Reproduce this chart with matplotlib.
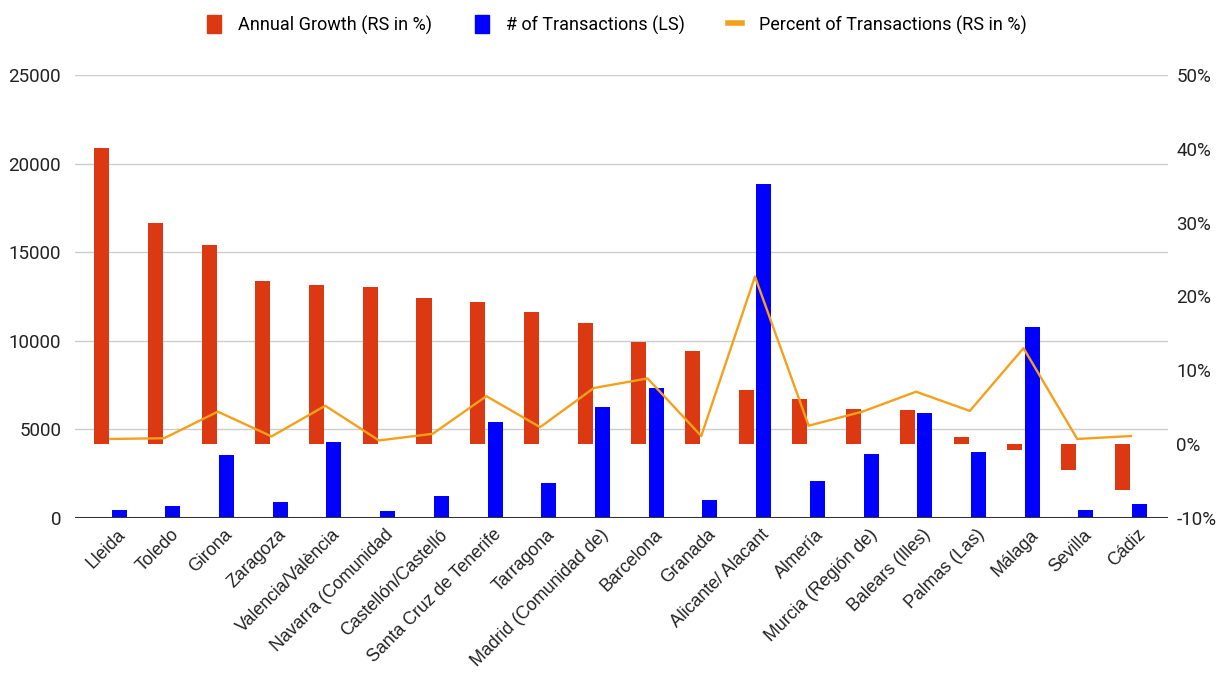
import numpy as np
import matplotlib
matplotlib.use("Agg")
import matplotlib.pyplot as plt
from matplotlib.patches import Patch
from matplotlib.lines import Line2D
from matplotlib.ticker import FuncFormatter

# Data
provinces = [
    "Lleida", "Toledo", "Girona", "Zaragoza", "Valencia/València",
    "Navarra (Comunidad", "Castellón/Castelló", "Santa Cruz de Tenerife",
    "Tarragona", "Madrid (Comunidad de)", "Barcelona", "Granada",
    "Alicante/ Alacant", "Almería", "Murcia (Región de)", "Balears (Illes)",
    "Palmas (Las)", "Málaga", "Sevilla", "Cádiz",
]
annual_growth = [40.1, 29.9, 27.0, 22.1, 21.5, 21.3, 19.8, 19.2, 17.9, 16.4,
                 13.9, 12.6, 7.4, 6.1, 4.8, 4.6, 0.9, -0.8, -3.5, -6.2]
transactions = [470, 660, 3530, 900, 4270, 375, 1260, 5390, 1950, 6280,
                7330, 1000, 18850, 2070, 3630, 5920, 3720, 10750, 470, 810]
pct_transactions = [0.7, 0.8, 4.4, 1.05, 5.2, 0.5, 1.4, 6.5, 2.3, 7.6,
                    8.9, 1.1, 22.7, 2.5, 4.4, 7.1, 4.5, 13.0, 0.7, 1.1]

RED = "#dc3912"
BLUE = "#0000ff"
ORANGE = "#f5a01a"

plt.rcParams["font.family"] = ["Roboto", "DejaVu Sans"]

fig = plt.figure(figsize=(12.21, 6.81), dpi=100)
ax = fig.add_axes([0.0614, 0.2394, 0.8952, 0.6505])
ax2 = ax.twinx()

x = np.arange(len(provinces))
w = 0.28
off = 0.162

ax.bar(x + off, transactions, width=w, color=BLUE, zorder=2)
ax2.bar(x - off, annual_growth, width=w, color=RED, zorder=2)
ax2.plot(x, pct_transactions, color=ORANGE, lw=1.7, zorder=3)

ax.set_xlim(-0.66, len(provinces) - 1 + 0.69)
ax.set_ylim(0, 25000)
ax.set_yticks(np.arange(0, 25001, 5000))
ax2.set_ylim(-10, 50)
ax2.set_yticks(np.arange(-10, 51, 10))
ax2.yaxis.set_major_formatter(FuncFormatter(lambda v, p: f"{v:.0f}%"))

ax.grid(axis="y", color="#cccccc", lw=1)
ax.set_axisbelow(True)
for a in (ax, ax2):
    for s in a.spines.values():
        s.set_visible(False)
    a.tick_params(length=0, labelsize=13.5, colors="#222222")
ax.axhline(0, color="#333333", lw=1.5, zorder=4)
ax.tick_params(axis="y", pad=10)
ax2.tick_params(axis="y", pad=6)

ax.set_xticks(x)
ax.set_xticklabels(provinces, rotation=45, ha="right", va="top",
                   rotation_mode="anchor", fontsize=12.8,
                   family=["Liberation Sans", "DejaVu Sans"])
ax.tick_params(axis="x", pad=6)
for lbl in ax.get_xticklabels():
    lbl.set_x(lbl.get_position()[0])
    lbl.set_transform(lbl.get_transform() +
                      matplotlib.transforms.ScaledTranslation(6 / 100, 0, fig.dpi_scale_trans))

handles = [
    Patch(color=RED, label="Annual Growth (RS in %)"),
    Patch(color=BLUE, label="# of Transactions (LS)"),
    Line2D([], [], color=ORANGE, lw=4, label="Percent of Transactions (RS in %)"),
]
fig.legend(handles=handles, loc="upper center", bbox_to_anchor=(0.505, 1.002),
           ncol=3, frameon=False, fontsize=13, handlelength=0.8,
           handleheight=1.2, columnspacing=2.4, handletextpad=0.9)

fig.savefig("out.png", dpi=100)
